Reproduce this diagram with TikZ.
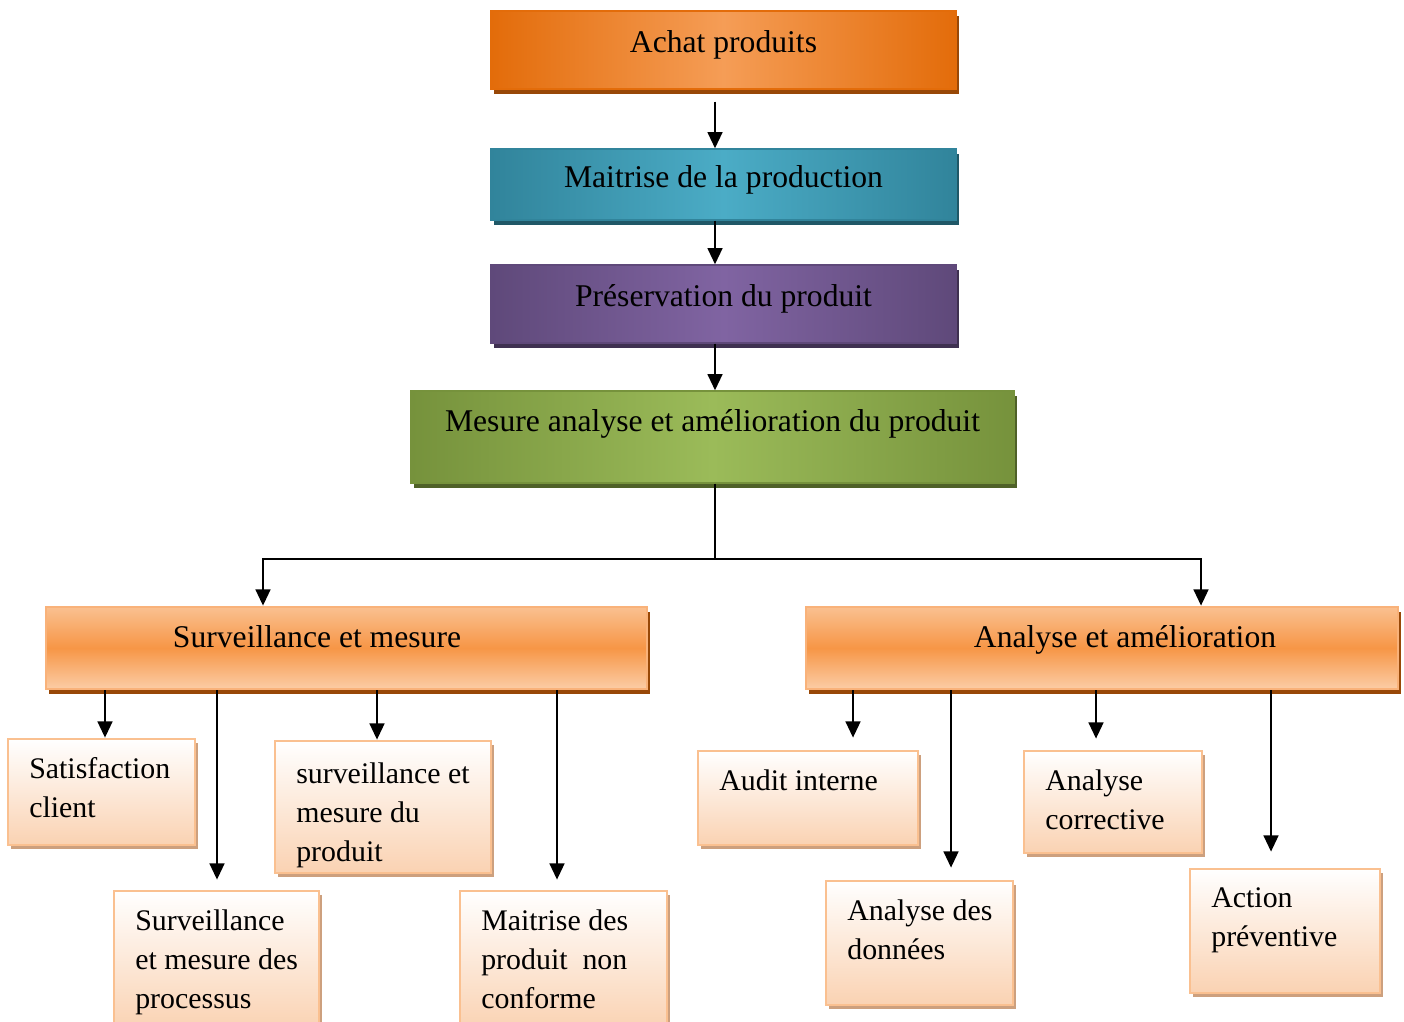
\documentclass[tikz,border=0pt]{standalone}
\usepackage{fontspec}
\setmainfont{Liberation Serif}
\usetikzlibrary{arrows.meta,shadows}
\definecolor{achatedge}{HTML}{E36C0A}
\definecolor{achatmid}{HTML}{F59D56}
\definecolor{achatshade}{HTML}{984807}
\definecolor{maitredge}{HTML}{31849B}
\definecolor{maitrmid}{HTML}{4BACC6}
\definecolor{maitrshade}{HTML}{205867}
\definecolor{preservedge}{HTML}{5F497A}
\definecolor{preservmid}{HTML}{8064A2}
\definecolor{preservshade}{HTML}{3F3151}
\definecolor{mesureedge}{HTML}{76923C}
\definecolor{mesuremid}{HTML}{9BBB59}
\definecolor{mesureshade}{HTML}{4F6128}
\definecolor{lvlight}{HTML}{FAC090}
\definecolor{lvmid}{HTML}{F79646}
\definecolor{lvborder}{HTML}{F9B27A}
\definecolor{leafbottom}{HTML}{FAD2B2}
\definecolor{leafborder}{HTML}{FAC090}
\definecolor{leafshade}{HTML}{CDA07E}
\tikzset{topbox/.style={rectangle, draw=#1edge, line width=0.4pt, minimum width=4.65cm, minimum height=0.78cm,
    font=\fontsize{9}{11}\selectfont, text height=0.7em, text depth=0.55em,
    left color=#1edge, right color=#1edge, middle color=#1mid,
    drop shadow={shadow xshift=0.03cm, shadow yshift=-0.045cm, opacity=1, fill=#1shade}}}
\tikzset{midbox/.style={rectangle, draw=lvborder, line width=0.8pt, minimum height=0.82cm,
    top color=lvlight, bottom color=lvlight!80!white, middle color=lvmid,
    drop shadow={shadow xshift=0.03cm, shadow yshift=-0.05cm, opacity=1, fill=achatshade}}}
\tikzset{midtext/.style={inner sep=0pt, text height=0.7em, text depth=0.25em, yshift=0.08cm,
    font=\fontsize{9}{11}\selectfont}}
\tikzset{leaf/.style={rectangle, draw=leafborder, line width=0.8pt, top color=white, bottom color=leafbottom,
    drop shadow={shadow xshift=0.03cm, shadow yshift=-0.04cm, opacity=1, fill=leafshade}}}
\tikzset{leaftext/.style={anchor=north west, align=left, inner sep=0pt, xshift=0.22cm, yshift=-0.19cm,
    font=\fontsize{8.5}{11.1}\selectfont}}
\tikzset{arr/.style={semithick, -{Triangle[length=4.6pt, width=4.2pt]}}}
\tikzset{wire/.style={semithick}}

\begin{document}
\begin{tikzpicture}
  \useasboundingbox (0,0) rectangle (14.04,-10.21);

  \node[topbox=achat] (achat) at (7.235,-0.50) {Achat produits};
  \node[topbox=maitr, minimum height=0.71cm] (maitrise) at (7.235,-1.845) {Maitrise de la production};
  \node[topbox=preserv] (preserv) at (7.235,-3.04) {Préservation du produit};
  \node[topbox=mesure, minimum width=6.03cm, minimum height=0.92cm, text depth=1em] (mesure) at (7.125,-4.37) {Mesure analyse et amélioration du produit};

  \node[midbox, minimum width=6.01cm, label={[midtext, xshift=-0.295cm]center:Surveillance et mesure}] (surv) at (3.465,-6.48) {};
  \node[midbox, minimum width=5.92cm, label={[midtext, xshift=0.23cm]center:Analyse et amélioration}] (analyse) at (11.02,-6.48) {};

  % surveillance et mesure
  \node[leaf, minimum width=1.87cm, minimum height=1.06cm, label={[leaftext]north west:Satisfaction\\client}] (sat) at (1.015,-7.92) {};
  \node[leaf, minimum width=2.05cm, minimum height=1.39cm, label={[leaftext]north west:Surveillance\\et mesure des\\processus}] (survproc) at (2.165,-9.605) {};
  \node[leaf, minimum width=2.16cm, minimum height=1.32cm, label={[leaftext, yshift=-0.03cm]north west:surveillance et\\mesure du\\produit}] (survprod) at (3.83,-8.07) {};
  \node[leaf, minimum width=2.07cm, minimum height=1.39cm, label={[leaftext]north west:Maitrise des\\produit~ non\\conforme}] (nonconf) at (5.635,-9.605) {};

  % analyse et amelioration
  \node[leaf, minimum width=2.20cm, minimum height=0.94cm, label={[leaftext]north west:Audit interne}] (audit) at (8.08,-7.98) {};
  \node[leaf, minimum width=1.87cm, minimum height=1.24cm, label={[leaftext]north west:Analyse des\\données}] (donnees) at (9.195,-9.43) {};
  \node[leaf, minimum width=1.78cm, minimum height=1.02cm, label={[leaftext]north west:Analyse\\corrective}] (corrective) at (11.13,-8.02) {};
  \node[leaf, minimum width=1.90cm, minimum height=1.24cm, label={[leaftext]north west:Action\\préventive}] (preventive) at (12.85,-9.31) {};

  \coordinate (spine) at (7.15,-5.59);
  \coordinate (xsat) at (1.05,0);
  \coordinate (xproc) at (2.17,0);
  \coordinate (xprod) at (3.77,0);
  \coordinate (xconf) at (5.57,0);
  \coordinate (xaudit) at (8.53,0);
  \coordinate (xdon) at (9.51,0);
  \coordinate (xcorr) at (10.96,0);
  \coordinate (xprev) at (12.71,0);

  \draw[arr, shorten <=0.12cm] (achat.south -| spine) -- (maitrise.north -| spine);
  \draw[arr] (maitrise.south -| spine) -- (preserv.north -| spine);
  \draw[arr] (preserv.south -| spine) -- (mesure.north -| spine);
  \draw[wire] (mesure.south -| spine) -- (spine);
  \draw[arr] (spine) -| ([xshift=-0.835cm]surv.north);
  \draw[arr] (spine) -| ([xshift=0.99cm]analyse.north);

  \draw[arr] (surv.south -| xsat) -- (sat.north -| xsat);
  \draw[arr, shorten >=0.1cm] (surv.south -| xproc) -- (survproc.north -| xproc);
  \draw[arr] (surv.south -| xprod) -- (survprod.north -| xprod);
  \draw[arr, shorten >=0.1cm] (surv.south -| xconf) -- (nonconf.north -| xconf);

  \draw[arr, shorten >=0.12cm] (analyse.south -| xaudit) -- (audit.north -| xaudit);
  \draw[arr, shorten >=0.12cm] (analyse.south -| xdon) -- (donnees.north -| xdon);
  \draw[arr, shorten >=0.11cm] (analyse.south -| xcorr) -- (corrective.north -| xcorr);
  \draw[arr, shorten >=0.16cm] (analyse.south -| xprev) -- (preventive.north -| xprev);
\end{tikzpicture}
\end{document}
